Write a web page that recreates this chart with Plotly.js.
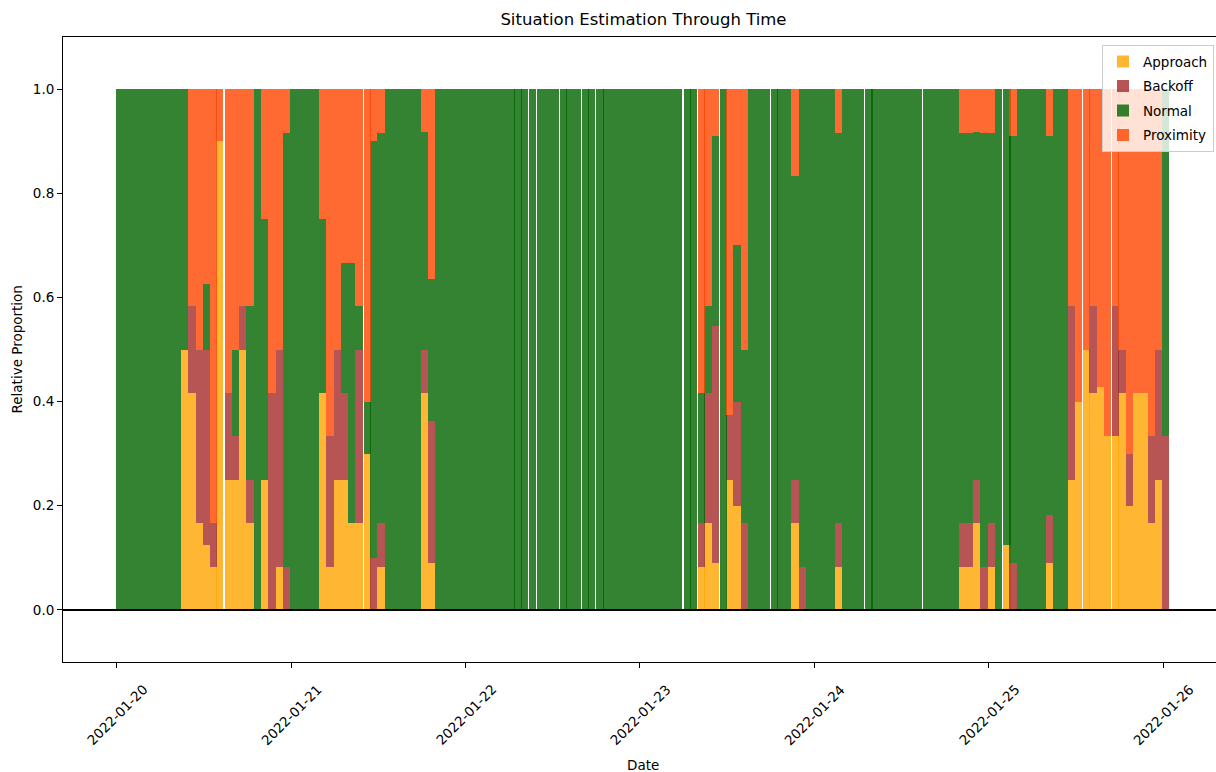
<!DOCTYPE html>
<html>
<head>
<meta charset="utf-8">
<script src="https://cdn.plot.ly/plotly-3.0.1.min.js"></script>
<style>
  html, body { margin: 0; padding: 0; background: #ffffff; overflow: hidden; }
  #chart { width: 1224px; height: 772px; }
</style>
</head>
<body>
<div id="chart"></div>
<script>
// Observation window timestamps (one per hour, rows = days)
const times = [
  '2022-01-20 00:00','2022-01-20 01:00','2022-01-20 02:00','2022-01-20 03:00','2022-01-20 04:00','2022-01-20 05:00',
  '2022-01-20 06:00','2022-01-20 07:00','2022-01-20 08:00','2022-01-20 09:00','2022-01-20 10:00','2022-01-20 11:00',
  '2022-01-20 12:00','2022-01-20 13:00','2022-01-20 13:50','2022-01-20 15:00','2022-01-20 16:00','2022-01-20 17:00',
  '2022-01-20 18:00','2022-01-20 19:00','2022-01-20 20:00','2022-01-20 21:00','2022-01-20 22:00','2022-01-20 23:00',
  '2022-01-21 00:00','2022-01-21 01:00','2022-01-21 02:00','2022-01-21 03:00','2022-01-21 04:00','2022-01-21 05:00',
  '2022-01-21 06:00','2022-01-21 07:00','2022-01-21 08:00','2022-01-21 09:00','2022-01-21 10:08','2022-01-21 11:00',
  '2022-01-21 12:00','2022-01-21 13:00','2022-01-21 14:00','2022-01-21 15:00','2022-01-21 16:00','2022-01-21 17:00',
  '2022-01-21 18:00','2022-01-21 19:00','2022-01-21 20:00','2022-01-21 21:00','2022-01-21 22:00','2022-01-21 23:00',
  '2022-01-22 00:00','2022-01-22 01:00','2022-01-22 02:00','2022-01-22 03:00','2022-01-22 04:00','2022-01-22 05:00',
  '2022-01-22 06:00','2022-01-22 06:52','2022-01-22 07:44','2022-01-22 08:52','2022-01-22 10:00','2022-01-22 11:00',
  '2022-01-22 12:00','2022-01-22 13:10','2022-01-22 14:00','2022-01-22 15:00','2022-01-22 16:08','2022-01-22 17:00',
  '2022-01-22 18:10','2022-01-22 19:00','2022-01-22 20:00','2022-01-22 21:00','2022-01-22 22:00','2022-01-22 23:00',
  '2022-01-23 00:00','2022-01-23 01:00','2022-01-23 02:00','2022-01-23 03:00','2022-01-23 04:00','2022-01-23 05:00',
  '2022-01-23 06:10','2022-01-23 07:00','2022-01-23 08:08','2022-01-23 09:00','2022-01-23 10:00','2022-01-23 11:08',
  '2022-01-23 12:00','2022-01-23 13:00','2022-01-23 14:00','2022-01-23 15:00','2022-01-23 16:00','2022-01-23 17:00',
  '2022-01-23 18:08','2022-01-23 19:00','2022-01-23 20:00','2022-01-23 21:00','2022-01-23 22:00','2022-01-23 23:00',
  '2022-01-24 00:00','2022-01-24 01:00','2022-01-24 02:00','2022-01-24 03:00','2022-01-24 04:00','2022-01-24 05:00',
  '2022-01-24 06:00','2022-01-24 07:10','2022-01-24 08:00','2022-01-24 09:00','2022-01-24 10:00','2022-01-24 11:00',
  '2022-01-24 12:00','2022-01-24 13:00','2022-01-24 14:00','2022-01-24 15:08','2022-01-24 16:00','2022-01-24 17:00',
  '2022-01-24 18:00','2022-01-24 19:00','2022-01-24 20:00','2022-01-24 21:00','2022-01-24 22:00','2022-01-24 23:00',
  '2022-01-25 00:00','2022-01-25 01:00','2022-01-25 02:10','2022-01-25 03:00','2022-01-25 04:00','2022-01-25 05:00',
  '2022-01-25 06:00','2022-01-25 07:00','2022-01-25 08:00','2022-01-25 09:00','2022-01-25 10:00','2022-01-25 11:00',
  '2022-01-25 12:00','2022-01-25 13:08','2022-01-25 14:00','2022-01-25 15:00','2022-01-25 16:00','2022-01-25 17:08',
  '2022-01-25 18:00','2022-01-25 19:00','2022-01-25 20:00','2022-01-25 21:00','2022-01-25 22:00','2022-01-25 23:00',
  '2022-01-26 00:00'
];

// Share of each situation class in every window
const approach = [
  0,0,0,0,0,0,0,0,0,0.5,0.4167,0.1667,0.125,0.0833,0.9,0.25,0.25,0.5,0.1667,0,0.25,0,0.0833,0,
  0,0,0,0,0.4167,0.0833,0.25,0.25,0.1667,0.1667,0.3,0,0.0833,0,0,0,0,0,0.4167,0.0909,0,0,0,0,
  0,0,0,0,0,0,0,0,0,0,0,0,0,0,0,0,0,0,0,0,0,0,0,0,
  0,0,0,0,0,0,0,0,0.0833,0.1667,0.0909,0,0.25,0.2,0,0,0,0,0,0,0,0.1667,0,0,
  0,0,0,0.0833,0,0,0,0,0,0,0,0,0,0,0,0,0,0,0,0,0.0833,0.0833,0.1667,0,
  0.0833,0,0.125,0,0,0,0,0,0.0909,0,0,0.25,0.4,0.5,0.4167,0.4286,0.3333,0.3333,0.4167,0.2,0.4167,0.4167,0.1667,0.25,
  0
];

const backoff = [
  0,0,0,0,0,0,0,0,0,0,0.1667,0.3333,0.375,0.0833,0,0.1667,0.0833,0.0833,0.0833,0,0,0.4167,0.4167,0.0833,
  0,0,0,0,0,0.25,0.25,0.1667,0,0.3333,0,0.1,0.0833,0,0,0,0,0,0.0833,0.2727,0,0,0,0,
  0,0,0,0,0,0,0,0,0,0,0,0,0,0,0,0,0,0,0,0,0,0,0,0,
  0,0,0,0,0,0,0,0,0.0833,0.25,0.4545,0,0.125,0.2,0.1667,0,0,0,0,0,0,0.0833,0.0833,0,
  0,0,0,0.0833,0,0,0,0,0,0,0,0,0,0,0,0,0,0,0,0,0.0833,0.0833,0.0833,0.0833,
  0.0833,0,0,0.0909,0,0,0,0,0.0909,0,0,0.3333,0,0,0.1667,0,0,0.25,0.0833,0.1,0,0,0.1667,0.25,
  0.3333
];

const normal = [
  1,1,1,1,1,1,1,1,1,0.5,0,0,0.125,0,0,0,0.1667,0,0.3333,1,0.5,0,0,0.8333,
  1,1,1,1,0.3333,0,0,0.25,0.5,0.0833,0.1,0.8,0.75,1,1,1,1,1,0.4167,0.2727,1,1,1,1,
  1,1,1,1,1,1,1,1,1,1,1,1,1,1,1,1,1,1,1,1,1,1,1,1,
  1,1,1,1,1,1,1,1,0.25,0.1667,0.3636,1,0,0.3,0.3333,1,1,1,1,1,1,0.5833,0.9167,1,
  1,1,1,0.75,1,1,1,1,1,1,1,1,1,1,1,1,1,1,1,1,0.75,0.75,0.6667,0.8333,
  0.75,1,0.875,0.8182,1,1,1,1,0.7273,1,1,0,0,0,0,0,0,0,0,0,0,0,0,0,
  0.6667
];

const proximity = [
  0,0,0,0,0,0,0,0,0,0,0.4167,0.5,0.375,0.8333,0.1,0.5833,0.5,0.4167,0.4167,0,0.25,0.5833,0.5,0.0833,
  0,0,0,0,0.25,0.6667,0.5,0.3333,0.3333,0.4167,0.6,0.1,0.0833,0,0,0,0,0,0.0833,0.3636,0,0,0,0,
  0,0,0,0,0,0,0,0,0,0,0,0,0,0,0,0,0,0,0,0,0,0,0,0,
  0,0,0,0,0,0,0,0,0.5833,0.4167,0.0909,0,0.625,0.3,0.5,0,0,0,0,0,0,0.1667,0,0,
  0,0,0,0.0833,0,0,0,0,0,0,0,0,0,0,0,0,0,0,0,0,0.0833,0.0833,0.0833,0.0833,
  0.0833,0,0,0.0909,0,0,0,0,0.0909,0,0,0.4167,0.6,0.5,0.4167,0.5714,0.6667,0.4167,0.5,0.7,0.5833,0.5833,0.6667,0.5,
  0
];

const seriesNames = ['Approach', 'Backoff', 'Normal', 'Proximity'];
const seriesColors = ['rgba(255,165,0,0.8)', 'rgba(165,42,42,0.8)', 'rgba(0,100,0,0.8)', 'rgba(255,69,0,0.8)'];

const dayTicks = ['2022-01-20', '2022-01-21', '2022-01-22', '2022-01-23', '2022-01-24', '2022-01-25', '2022-01-26'];
const yTicks = [0, 0.2, 0.4, 0.6, 0.8, 1.0];
const yTickText = ['0.0', '0.2', '0.4', '0.6', '0.8', '1.0'];

const HOUR = 3600000;
const BAR_OFFSET = -0.15 * HOUR;   // bar starts a little before its timestamp

function toMs(s) { return Date.parse(s.replace(' ', 'T') + ':00Z'); }
function fmt(ms) {
  const d = new Date(ms);
  const p = n => String(n).padStart(2, '0');
  return d.getUTCFullYear() + '-' + p(d.getUTCMonth() + 1) + '-' + p(d.getUTCDate()) + ' ' +
         p(d.getUTCHours()) + ':' + p(d.getUTCMinutes()) + ':' + p(d.getUTCSeconds());
}

const FONT = 'DejaVu Sans, sans-serif';

const traces = [approach, backoff, normal, proximity].map((vals, i) => ({
  type: 'bar',
  name: seriesNames[i],
  legendgroup: seriesNames[i],
  x: times,
  y: vals,
  width: HOUR,
  offset: BAR_OFFSET,
  marker: { color: seriesColors[i], line: { width: 0 } },
  hoverinfo: 'x+y+name'
}));

// axis range: 5% padding around the span covered by the bars
const firstEdge = toMs(times[0]) + BAR_OFFSET;
const lastEdge = toMs(times[times.length - 1]) + BAR_OFFSET + HOUR;
const pad = 0.05 * (lastEdge - firstEdge);

const annotations = dayTicks.map(d => ({
  x: d, xref: 'x', y: -0.0845, yref: 'paper',
  text: d, showarrow: false, textangle: -45,
  xanchor: 'center', yanchor: 'middle',
  font: { family: FONT, size: 13.5, color: '#000' }
}));
annotations.push({
  x: 0.5, xref: 'paper', y: -0.1648, yref: 'paper',
  text: 'Date', showarrow: false, xanchor: 'center', yanchor: 'middle',
  font: { family: FONT, size: 13.5, color: '#000' }
});
annotations.push({
  x: -0.0397, xref: 'paper', y: 0.5, yref: 'paper',
  text: 'Relative Proportion', showarrow: false, textangle: -90,
  xanchor: 'center', yanchor: 'middle',
  font: { family: FONT, size: 13.5, color: '#000' }
});

const layout = {
  width: 1224,
  height: 772,
  margin: { l: 63, r: 2, t: 37, b: 110 },
  paper_bgcolor: '#ffffff',
  plot_bgcolor: '#ffffff',
  barmode: 'stack',
  bargap: 0,
  font: { family: FONT, size: 13.5, color: '#000' },
  title: {
    text: 'Situation Estimation Through Time',
    font: { family: FONT, size: 16.5, color: '#000' },
    x: 0.5257, xanchor: 'center',
    y: 0.9745, yanchor: 'middle'
  },
  xaxis: {
    type: 'date',
    range: [fmt(firstEdge - pad), fmt(lastEdge + pad)],
    tickvals: dayTicks,
    showticklabels: false,
    ticks: 'outside', ticklen: 5, tickwidth: 1, tickcolor: '#000',
    showgrid: false, zeroline: false,
    showline: true, mirror: true, linecolor: '#000', linewidth: 1
  },
  yaxis: {
    range: [-0.1, 1.1],
    tickvals: yTicks,
    ticktext: yTickText,
    ticks: 'outside', ticklen: 5, tickwidth: 1, tickcolor: '#000',
    tickfont: { family: FONT, size: 13.5, color: '#000' },
    showgrid: false, zeroline: false,
    showline: true, mirror: true, linecolor: '#000', linewidth: 1
  },
  shapes: [{
    type: 'line', xref: 'paper', x0: 0, x1: 1, yref: 'y', y0: 0, y1: 0,
    line: { color: '#000', width: 2 }, layer: 'above'
  }],
  legend: {
    x: 0.9931, xanchor: 'right', xref: 'paper',
    y: 0.987, yanchor: 'top', yref: 'paper',
    bgcolor: 'rgba(255,255,255,0.8)',
    bordercolor: '#cccccc', borderwidth: 1,
    traceorder: 'grouped',
    tracegroupgap: 4,
    font: { family: FONT, size: 13.5, color: '#000' }
  },
  annotations: annotations
};

Plotly.newPlot('chart', traces, layout, { displayModeBar: false, staticPlot: true });
</script>
</body>
</html>
